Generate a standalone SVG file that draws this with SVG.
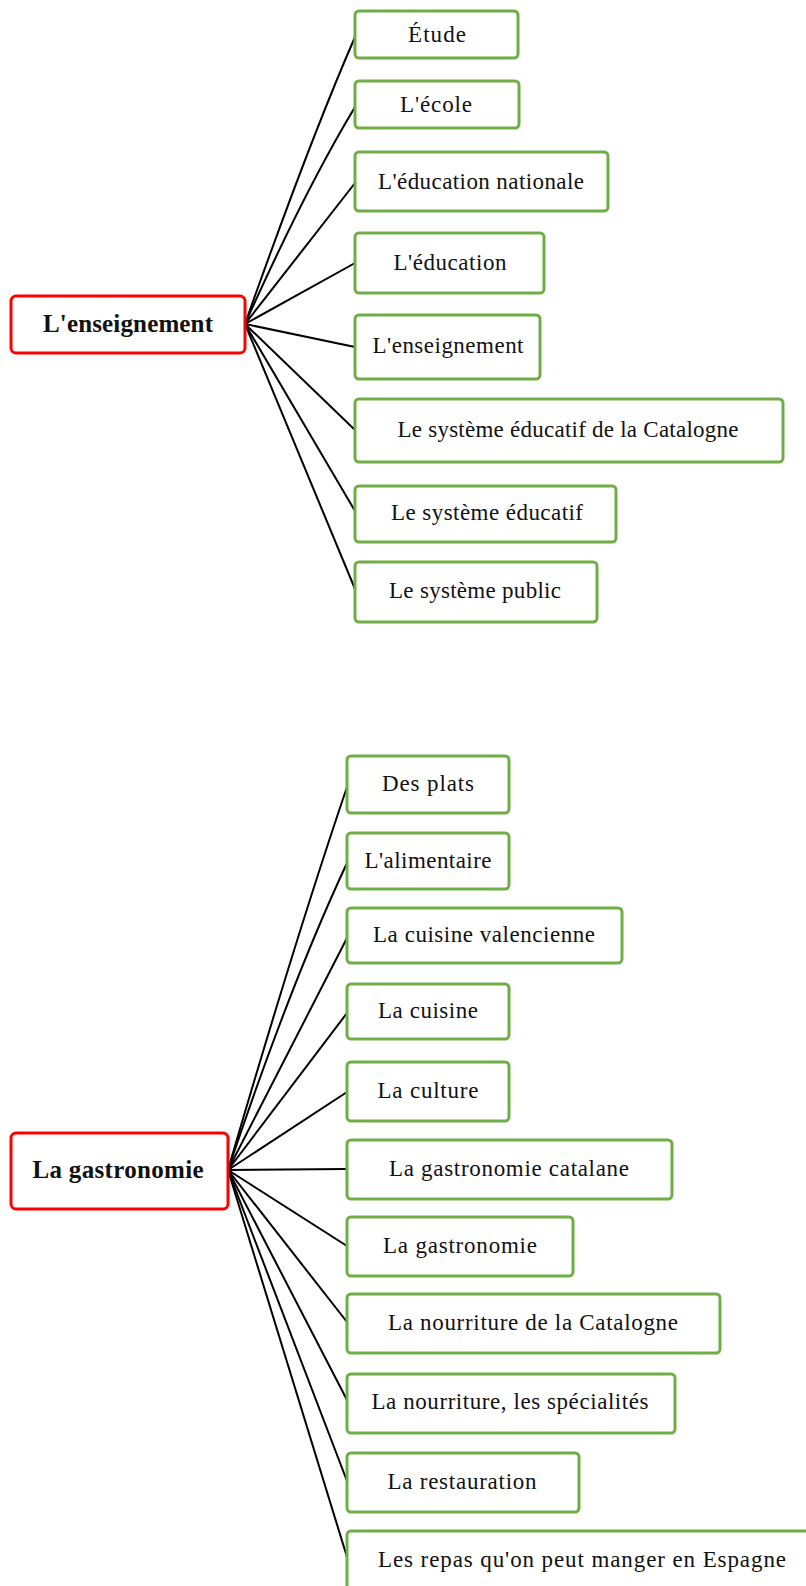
<svg xmlns="http://www.w3.org/2000/svg" width="806" height="1586" viewBox="0 0 806 1586">
<style>
.root rect{fill:#fff;stroke:#FF0000;stroke-width:3}
.child rect{fill:#fff;stroke:#70AD47;stroke-width:3}
text{font-family:"Liberation Serif","Times New Roman",serif;font-size:23px;fill:#111;text-anchor:middle}
.root text{font-weight:bold;font-size:25px}
#connectors line,#connectors path{stroke:#000;stroke-width:2;fill:none}
</style>
<rect width="806" height="1586" fill="#fff"/>
<g id="connectors">
<path d="M245,324 Q310,140 355,37"/>
<path d="M245,324 Q305,190 355,107"/>
<line x1="245" y1="324" x2="355" y2="183"/>
<line x1="245" y1="324" x2="355" y2="263"/>
<line x1="245" y1="324" x2="355" y2="347"/>
<line x1="245" y1="324" x2="355" y2="430"/>
<line x1="245" y1="324" x2="355" y2="511"/>
<line x1="245" y1="324" x2="355" y2="589"/>
<path d="M228,1170 Q295,940 347,787"/>
<path d="M228,1170 Q290,985 347,863"/>
<line x1="228" y1="1170" x2="347" y2="938"/>
<line x1="228" y1="1170" x2="347" y2="1013"/>
<line x1="228" y1="1170" x2="347" y2="1092"/>
<line x1="228" y1="1170" x2="347" y2="1169"/>
<line x1="228" y1="1170" x2="347" y2="1246"/>
<line x1="228" y1="1170" x2="347" y2="1322"/>
<line x1="228" y1="1170" x2="347" y2="1400"/>
<line x1="228" y1="1170" x2="347" y2="1481"/>
<line x1="228" y1="1170" x2="347" y2="1557"/>
</g>
<g id="root1" class="root"><rect x="11" y="296" width="234" height="57" rx="5"/><text x="128" y="332" textLength="170">L'enseignement</text></g>
<g id="e1" class="child"><rect x="355" y="11" width="163" height="47" rx="4"/><text x="437" y="42" textLength="58">Étude</text></g>
<g id="e2" class="child"><rect x="355" y="81" width="164" height="47" rx="4"/><text x="436" y="112" textLength="72">L'école</text></g>
<g id="e3" class="child"><rect x="355" y="152" width="253" height="59" rx="4"/><text x="481" y="189" textLength="206">L'éducation nationale</text></g>
<g id="e4" class="child"><rect x="355" y="233" width="189" height="60" rx="4"/><text x="450" y="270" textLength="113">L'éducation</text></g>
<g id="e5" class="child"><rect x="355" y="315" width="185" height="64" rx="4"/><text x="448" y="353" textLength="151">L'enseignement</text></g>
<g id="e6" class="child"><rect x="355" y="399" width="428" height="63" rx="4"/><text x="568" y="437" textLength="341">Le système éducatif de la Catalogne</text></g>
<g id="e7" class="child"><rect x="355" y="486" width="261" height="56" rx="4"/><text x="487" y="520" textLength="192">Le système éducatif</text></g>
<g id="e8" class="child"><rect x="355" y="562" width="242" height="60" rx="4"/><text x="475" y="598" textLength="172">Le système public</text></g>
<g id="root2" class="root"><rect x="11" y="1133" width="217" height="76" rx="5"/><text x="118" y="1178" textLength="171">La gastronomie</text></g>
<g id="g1" class="child"><rect x="347" y="756" width="162" height="57" rx="4"/><text x="428" y="791" textLength="92">Des plats</text></g>
<g id="g2" class="child"><rect x="347" y="833" width="162" height="56" rx="4"/><text x="428" y="868" textLength="127">L'alimentaire</text></g>
<g id="g3" class="child"><rect x="347" y="908" width="275" height="55" rx="4"/><text x="484" y="942" textLength="222">La cuisine valencienne</text></g>
<g id="g4" class="child"><rect x="347" y="984" width="162" height="55" rx="4"/><text x="428" y="1018" textLength="100">La cuisine</text></g>
<g id="g5" class="child"><rect x="347" y="1062" width="162" height="59" rx="4"/><text x="428" y="1098" textLength="101">La culture</text></g>
<g id="g6" class="child"><rect x="347" y="1140" width="325" height="59" rx="4"/><text x="509" y="1176" textLength="240">La gastronomie catalane</text></g>
<g id="g7" class="child"><rect x="347" y="1217" width="226" height="59" rx="4"/><text x="460" y="1253" textLength="154">La gastronomie</text></g>
<g id="g8" class="child"><rect x="347" y="1294" width="373" height="59" rx="4"/><text x="533" y="1330" textLength="290">La nourriture de la Catalogne</text></g>
<g id="g9" class="child"><rect x="347" y="1374" width="328" height="59" rx="4"/><text x="510" y="1409" textLength="277">La nourriture, les spécialités</text></g>
<g id="g10" class="child"><rect x="347" y="1453" width="232" height="59" rx="4"/><text x="462" y="1489" textLength="149">La restauration</text></g>
<g id="g11" class="child"><rect x="347" y="1531" width="470" height="62" rx="4"/><text x="582" y="1567" textLength="408">Les repas qu'on peut manger en Espagne</text></g>
</svg>
